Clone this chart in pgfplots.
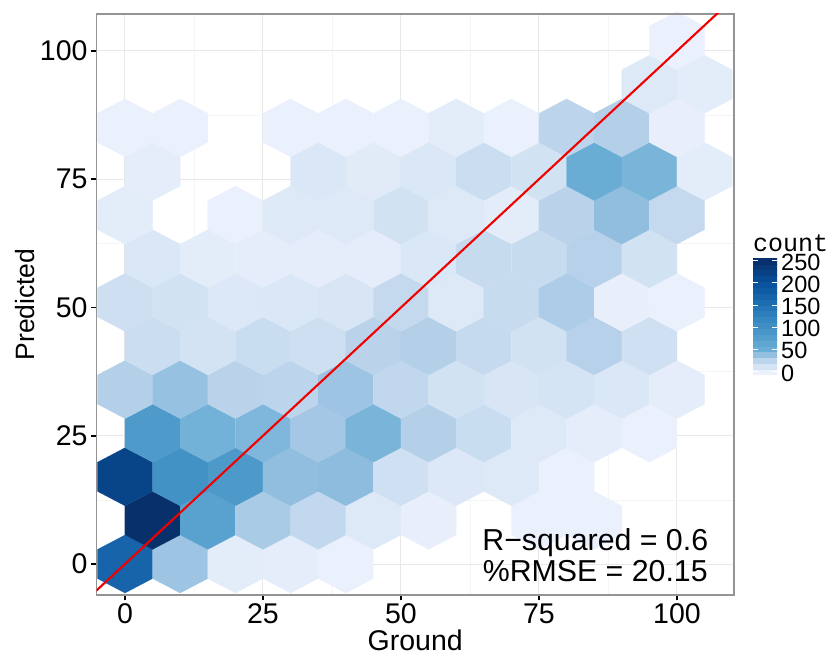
\documentclass[border=0pt]{standalone}
\usepackage{pgfplots}
\pgfplotsset{compat=1.18}
\usepackage{pgfplotstable}
\usepackage{fontspec}
\setmainfont{Liberation Sans}
\setmonofont{Liberation Mono}
\pgfdeclareplotmark{hex}{%
  \pgfpathmoveto{\pgfqpoint{0pt}{29pt}}%
  \pgfpathlineto{\pgfqpoint{27.6pt}{14.5pt}}%
  \pgfpathlineto{\pgfqpoint{27.6pt}{-14.5pt}}%
  \pgfpathlineto{\pgfqpoint{0pt}{-29pt}}%
  \pgfpathlineto{\pgfqpoint{-27.6pt}{-14.5pt}}%
  \pgfpathlineto{\pgfqpoint{-27.6pt}{14.5pt}}%
  \pgfpathclose
  \pgfusepathqfillstroke}
\pgfplotstableread{
x y c
0 0 170
10 0 35
20 0 6
30 0 5
40 0 3
5 8.5 250
15 8.5 72
25 8.5 31
35 8.5 22
45 8.5 8
55 8.5 4
75 8.5 3
85 8.5 3
0 17 220
10 17 100
20 17 88
30 17 39
40 17 40
50 17 15
60 17 9
70 17 8
80 17 3
5 25.5 85
15 25.5 48
25 25.5 44
35 25.5 33
45 25.5 46
55 25.5 28
65 25.5 18
75 25.5 8
85 25.5 5
95 25.5 3
0 34 28
10 34 37
20 34 26
30 34 25
40 34 35
50 34 23
60 34 14
70 34 11
80 34 12
90 34 10
100 34 5
5 42.5 17
15 42.5 13
25 42.5 18
35 42.5 16
45 42.5 26
55 42.5 28
65 42.5 20
75 42.5 14
85 42.5 27
95 42.5 15
0 51 16
10 51 14
20 51 9
30 51 10
40 51 11
50 51 21
60 51 8
70 51 19
80 51 30
90 51 4
100 51 3
5 59.5 10
15 59.5 6
25 59.5 5
35 59.5 5
45 59.5 5
55 59.5 10
65 59.5 19
75 59.5 19
85 59.5 27
95 59.5 14
0 68 6
20 68 3
30 68 8
40 68 8
50 68 14
60 68 8
70 68 6
80 68 26
90 68 39
100 68 21
5 76.5 5
35 76.5 10
45 76.5 7
55 76.5 10
65 76.5 17
75 76.5 14
85 76.5 52
95 76.5 46
105 76.5 6
0 85 3
10 85 3
30 85 3
40 85 3
50 85 3
60 85 6
70 85 3
80 85 25
90 85 28
100 85 4
95 93.5 8
105 93.5 6
100 102 3
}\hexdata
\pgfplotsset{
  colormap={hexblues}{
    rgb255(0pt)=(240,244,254)
    rgb255(11pt)=(234,240,252)
    rgb255(20pt)=(213,228,244)
    rgb255(34pt)=(186,211,235)
    rgb255(46pt)=(148,191,224)
    rgb255(58pt)=(107,174,214)
    rgb255(108pt)=(66,146,198)
    rgb255(158pt)=(33,113,181)
    rgb255(208pt)=(8,81,156)
    rgb255(258pt)=(8,48,107)
    rgb255(264pt)=(8,46,102)
  }
}
\begin{document}
\begin{tikzpicture}[x=1pt,y=1pt]
\useasboundingbox (0,0) rectangle (829,655);
\begin{axis}[
  at={(96.5pt,60pt)}, anchor=south west,
  scale only axis, width=637.5pt, height=581pt,
  xmin=-5.16, xmax=110.33, ymin=-6.04, ymax=107.2,
  xtick={0,25,50,75,100}, ytick={0,25,50,75,100},
  minor xtick={12.5,37.5,62.5,87.5}, minor ytick={12.5,37.5,62.5,87.5},
  grid=both,
  major grid style={color=black!9, line width=1pt},
  minor grid style={color=black!4, line width=0.6pt},
  tick align=outside, xtick pos=bottom, ytick pos=left,
  major tick length=5.5pt, minor tick length=0pt,
  major tick style={black, line width=1.6pt},
  axis line style={color=black!42, line width=1.6pt},
  /pgf/number format/assume math mode=true,
  ticklabel style={font=\fontsize{28.5}{30}\selectfont},
  xlabel={Ground},
  ylabel={Predicted},
  xlabel style={font=\fontsize{28.5}{30}\selectfont, at={(0.5,0)}, anchor=north, yshift=-31pt},
  ylabel style={font=\fontsize{26.5}{30}\selectfont, at={(0,0.5)}, anchor=south, yshift=58pt},
  point meta min=-8, point meta max=256,
  colormap name=hexblues,
  colorbar sampled,
  colorbar style={
    samples=21,
    at={(1.0298,0.3787)}, anchor=south west,
    scale only axis, width=24pt, height=117pt,
    ytick={0,50,100,150,200,250},
    ytick pos=both, yticklabel pos=right,
    tick align=inside,
    major tick length=5pt,
    major tick style={white, line width=0.8pt},
    axis line style={draw=none},
    /pgf/number format/assume math mode=true,
    yticklabel style={font=\fontsize{23.5}{24}\selectfont, xshift=2pt, yshift=-1.5pt, inner sep=2pt},
  },
]
\addplot[scatter, only marks, mark=hex, point meta=explicit,
  scatter/use mapped color={draw=mapped color, fill=mapped color, line width=0.2pt}]
  table[x=x, y=y, meta=c] {\hexdata};
\end{axis}
\begin{axis}[
  at={(96.5pt,60pt)}, anchor=south west,
  scale only axis, width=637.5pt, height=581pt,
  xmin=-5.16, xmax=110.33, ymin=-6.04, ymax=107.2,
  xtick=\empty, ytick=\empty,
  axis line style={color=black!42, line width=1.6pt},
]
\addplot[red!95!black, line width=2.1pt, no marks] coordinates {(-6,-6) (111,111)};
\node[font=\fontsize{30.3}{30}\selectfont, inner sep=0pt, anchor=center] at (axis cs:85.2,4.1) {R−squared = 0.6};
\node[font=\fontsize{30.3}{30}\selectfont, inner sep=0pt, anchor=center] at (axis cs:85.2,-1.3) {\%RMSE = 20.15};
\end{axis}
\node[font=\fontsize{25}{25}\selectfont\ttfamily, anchor=base west, inner sep=0pt] at (753,403) {count};
\end{tikzpicture}
\end{document}
